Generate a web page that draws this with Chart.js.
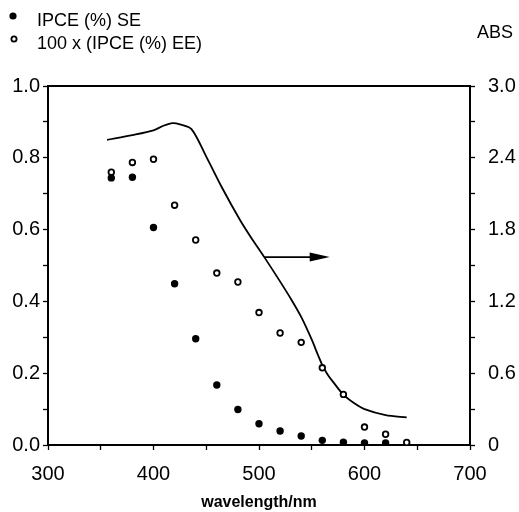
<!DOCTYPE html>
<html>
<head>
<meta charset="utf-8">
<script src="https://cdn.jsdelivr.net/npm/chart.js@4.4.1/dist/chart.umd.min.js"></script>
<style>
  html, body { margin: 0; padding: 0; background: #fff; }
  #wrap { width: 519px; height: 512px; }
</style>
</head>
<body>
<div id="wrap"><canvas id="c" width="519" height="512"></canvas></div>
<script>
// wavelengths (nm) for the IPCE points
const wavelengths = [360, 380, 400, 420, 440, 460, 480, 500, 520, 540, 560, 580, 600, 620, 640];
// IPCE (%) SE, filled dots
const ipceSE = [0.744, 0.746, 0.606, 0.449, 0.296, 0.167, 0.099, 0.059, 0.039, 0.025, 0.013, 0.008, 0.006, 0.006, null];
// 100 x (IPCE (%) EE), open circles
const ipceEE = [0.760, 0.787, 0.796, 0.668, 0.571, 0.479, 0.454, 0.369, 0.312, 0.286, 0.215, 0.141, 0.050, 0.030, 0.007];
// absorbance curve (right axis)
const absWavelengths = [356, 380, 400, 410, 418, 425, 436, 450, 465, 482, 492, 505, 519, 531, 540, 550, 556, 561, 565, 570, 580, 590, 600, 620, 640];
const absValues = [2.55, 2.59, 2.63, 2.67, 2.69, 2.68, 2.64, 2.41, 2.15, 1.88, 1.74, 1.57, 1.38, 1.21, 1.07, 0.88, 0.75, 0.65, 0.59, 0.53, 0.42, 0.35, 0.30, 0.25, 0.23];
// arrow pointing to the ABS axis
const arrowFrom = [505, 1.57];
const arrowTo = [567, 1.57];

const legendLabels = ['IPCE (%) SE', '100 x (IPCE (%) EE)'];
const leftTicks = [0, 0.2, 0.4, 0.6, 0.8, 1.0];
const rightTicks = [0, 0.6, 1.2, 1.8, 2.4, 3.0];
const xTicks = [300, 400, 500, 600, 700];

const FONT = 'Arial, "Liberation Sans", Helvetica, sans-serif';

const isMajor = (v, list) => list.some(t => Math.abs(t - v) < 1e-6);

// frame on top + arrow + legend + ABS label
const extras = {
  id: 'extras',
  afterDraw(chart) {
    const ctx = chart.ctx;
    const a = chart.chartArea;
    const x = chart.scales.x;
    const y2 = chart.scales.y2;
    ctx.save();
    ctx.strokeStyle = '#000';
    ctx.lineWidth = 2;
    ctx.beginPath();
    ctx.moveTo(a.left, a.top);
    ctx.lineTo(a.right, a.top);
    ctx.stroke();

    // arrow
    const x0 = x.getPixelForValue(arrowFrom[0]);
    const x1 = x.getPixelForValue(arrowTo[0]);
    const yy = y2.getPixelForValue(arrowFrom[1]);
    ctx.lineWidth = 1.8;
    ctx.beginPath();
    ctx.moveTo(x0, yy);
    ctx.lineTo(x1 - 18, yy);
    ctx.stroke();
    ctx.fillStyle = '#000';
    ctx.beginPath();
    ctx.moveTo(x1, yy);
    ctx.lineTo(x1 - 20, yy - 4.5);
    ctx.lineTo(x1 - 20, yy + 4.5);
    ctx.closePath();
    ctx.fill();

    // legend
    ctx.font = '18px ' + FONT;
    ctx.textBaseline = 'middle';
    ctx.textAlign = 'left';
    ctx.beginPath();
    ctx.arc(13, 16, 3.6, 0, Math.PI * 2);
    ctx.fill();
    ctx.fillText(legendLabels[0], 37, 21);
    ctx.lineWidth = 1.8;
    ctx.beginPath();
    ctx.arc(14, 39, 2.6, 0, Math.PI * 2);
    ctx.stroke();
    ctx.fillText(legendLabels[1], 37, 44);

    // ABS
    ctx.textAlign = 'center';
    ctx.fillText('ABS', 495, 33);
    ctx.restore();
  }
};

new Chart(document.getElementById('c'), {
  type: 'scatter',
  data: {
    datasets: [
      {
        label: legendLabels[0],
        data: wavelengths.map((w, i) => ({ x: w, y: ipceSE[i] })).filter(p => p.y !== null),
        pointRadius: 3.7,
        pointBackgroundColor: '#000',
        pointBorderColor: '#000',
        pointBorderWidth: 0,
        yAxisID: 'y'
      },
      {
        label: legendLabels[1],
        data: wavelengths.map((w, i) => ({ x: w, y: ipceEE[i] })),
        pointRadius: 2.8,
        pointBackgroundColor: '#fff',
        pointBorderColor: '#000',
        pointBorderWidth: 1.8,
        yAxisID: 'y'
      },
      {
        label: 'ABS',
        type: 'line',
        data: absWavelengths.map((w, i) => ({ x: w, y: absValues[i] })),
        borderColor: '#000',
        borderWidth: 1.8,
        pointRadius: 0,
        tension: 0.3,
        fill: false,
        yAxisID: 'y2'
      }
    ]
  },
  options: {
    responsive: false,
    animation: false,
    layout: { padding: { top: 86, left: 0, right: 0, bottom: 0 } },
    plugins: {
      legend: { display: false },
      tooltip: { enabled: false }
    },
    scales: {
      x: {
        type: 'linear',
        min: 300,
        max: 700,
        afterFit: s => { s.height = 67; },
        ticks: {
          stepSize: 50,
          color: '#000',
          font: { size: 20, family: FONT },
          padding: 12,
          maxRotation: 0,
          callback: v => isMajor(v, xTicks) ? String(v) : ''
        },
        grid: { drawOnChartArea: false, color: '#000', tickLength: 5, tickWidth: 1.3 },
        border: { color: '#000', width: 2 },
        title: {
          display: true,
          text: 'wavelength/nm',
          color: '#000',
          font: { size: 16, weight: 'bold', family: FONT },
          padding: { top: 6, bottom: 0 }
        }
      },
      y: {
        position: 'left',
        min: 0,
        max: 1,
        afterFit: s => { s.width = 48; },
        ticks: {
          stepSize: 0.1,
          color: '#000',
          font: { size: 20, family: FONT },
          padding: 3,
          callback: v => isMajor(v, leftTicks) ? v.toFixed(1) : ''
        },
        grid: { drawOnChartArea: false, color: '#000', tickLength: 5, tickWidth: 1.3 },
        border: { color: '#000', width: 2 }
      },
      y2: {
        position: 'right',
        min: 0,
        max: 3,
        afterFit: s => { s.width = 49; },
        ticks: {
          stepSize: 0.3,
          color: '#000',
          font: { size: 20, family: FONT },
          padding: 13,
          callback: v => {
            if (!isMajor(v, rightTicks)) return '';
            return v === 0 ? '0' : v.toFixed(1);
          }
        },
        grid: { drawOnChartArea: false, color: '#000', tickLength: 5, tickWidth: 1.3 },
        border: { color: '#000', width: 2 }
      }
    }
  },
  plugins: [extras]
});
</script>
</body>
</html>
